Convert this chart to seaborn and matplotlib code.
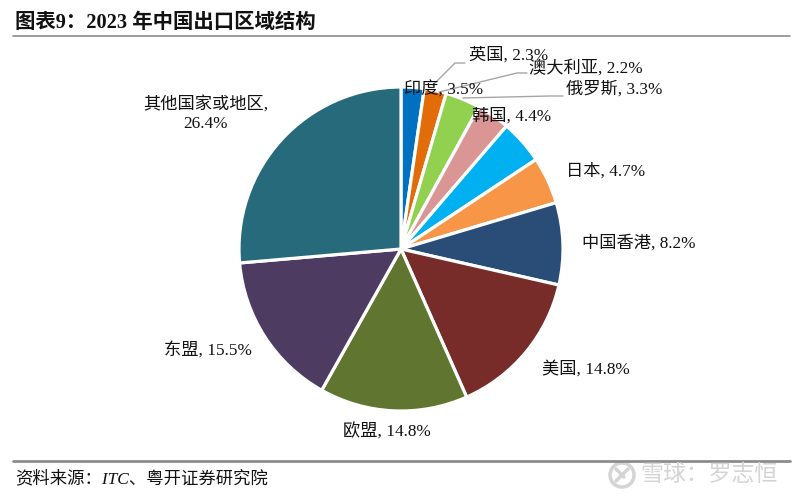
import matplotlib
matplotlib.use("Agg")
import matplotlib.pyplot as plt
from matplotlib.lines import Line2D
from matplotlib.patches import Circle
import seaborn as sns

sns.set_theme(style="white")
FONT = ['Liberation Serif', 'Noto Sans CJK SC', 'DejaVu Sans']
plt.rcParams['font.family'] = FONT

categories = ["英国", "澳大利亚", "印度", "俄罗斯", "韩国", "日本", "中国香港", "美国", "欧盟", "东盟", "其他国家或地区"]
shares = [2.3, 2.2, 3.5, 3.3, 4.4, 4.7, 8.2, 14.8, 14.8, 15.5, 26.4]
hex_colors = ["#0070C0", "#E36C0A", "#92D050", "#D99694", "#00B0F0", "#F79646",
              "#2A4D78", "#772C2A", "#5F7530", "#4D3B62", "#276A7C"]
title = "图表9：2023 年中国出口区域结构"
source = "资料来源：ITC、粤开证券研究院"
watermark = "雪球：罗志恒"

W, H = 800, 499
palette = sns.color_palette(hex_colors)
fig = plt.figure(figsize=(W / 100, H / 100), dpi=100, facecolor="white")

def px(x, y):
    return x / W, 1 - y / H

cx, cy, r = 401, 249, 162
ax = fig.add_axes([(cx - r) / W, 1 - (cy + r) / H, 2 * r / W, 2 * r / H])
ax.pie(shares, colors=palette, startangle=90, counterclock=False,
       wedgeprops=dict(edgecolor="white", linewidth=2.3))
ax.set_xlim(-1, 1)
ax.set_ylim(-1, 1)
ax.axis("off")

# label anchors: left edge and vertical centre, in reference pixels
label_pos = {"英国": (469, 55), "澳大利亚": (529, 68), "印度": (404, 90), "俄罗斯": (566, 89),
             "韩国": (472, 116), "日本": (566, 171), "中国香港": (582, 243), "美国": (542, 369),
             "欧盟": (343, 432), "东盟": (164, 350)}
for name, val in zip(categories, shares):
    if name in label_pos:
        x, y = label_pos[name]
        fig.text(*px(x, y), f"{name}, {val}%", fontsize=12.4, color="#111111", ha="left", va="center")
    else:
        fig.text(*px(206, 114), f"{name},\n{val}%", fontsize=12.4, color="#111111",
                 ha="center", va="center", linespacing=1.2)

leaders = [[(433, 85), (455, 63), (465, 63)],
           [(439, 92), (517, 73), (527, 73)],
           [(463, 98), (550, 96), (563, 96)]]
for pts in leaders:
    fig.add_artist(Line2D([p[0] / W for p in pts], [1 - p[1] / H for p in pts],
                          color="#A6A6A6", lw=1.0))

fig.text(*px(15, 23), title, fontsize=14.7, fontweight="bold", color="#111111", ha="left", va="center")
fig.add_artist(Line2D([13 / W, 790 / W], [1 - 36 / H] * 2, color="#8C8C8C", lw=1.2))
fig.add_artist(Line2D([13 / W, 790 / W], [1 - 461 / H] * 2, color="#8C8C8C", lw=2.0))
fig.text(*px(15, 479), source, fontsize=12.5, fontstyle="italic", color="#111111", ha="left", va="center")

# watermark: logo ring and name
overlay = fig.add_axes([0, 0, 1, 1], facecolor="none")
overlay.set_xlim(0, W)
overlay.set_ylim(H, 0)
overlay.axis("off")
overlay.add_patch(Circle((622, 475), 12, fill=False, edgecolor="#D4D4D4", lw=2.5))
overlay.add_line(Line2D([616, 628], [481, 469], color="#D4D4D4", lw=2.5))
overlay.add_line(Line2D([616, 624], [469, 477], color="#D4D4D4", lw=2.5))
fig.text(*px(778, 475), watermark, fontsize=16.5, color="#D4D4D4", ha="right", va="center")

fig.savefig("out.png", dpi=100, facecolor="white")
